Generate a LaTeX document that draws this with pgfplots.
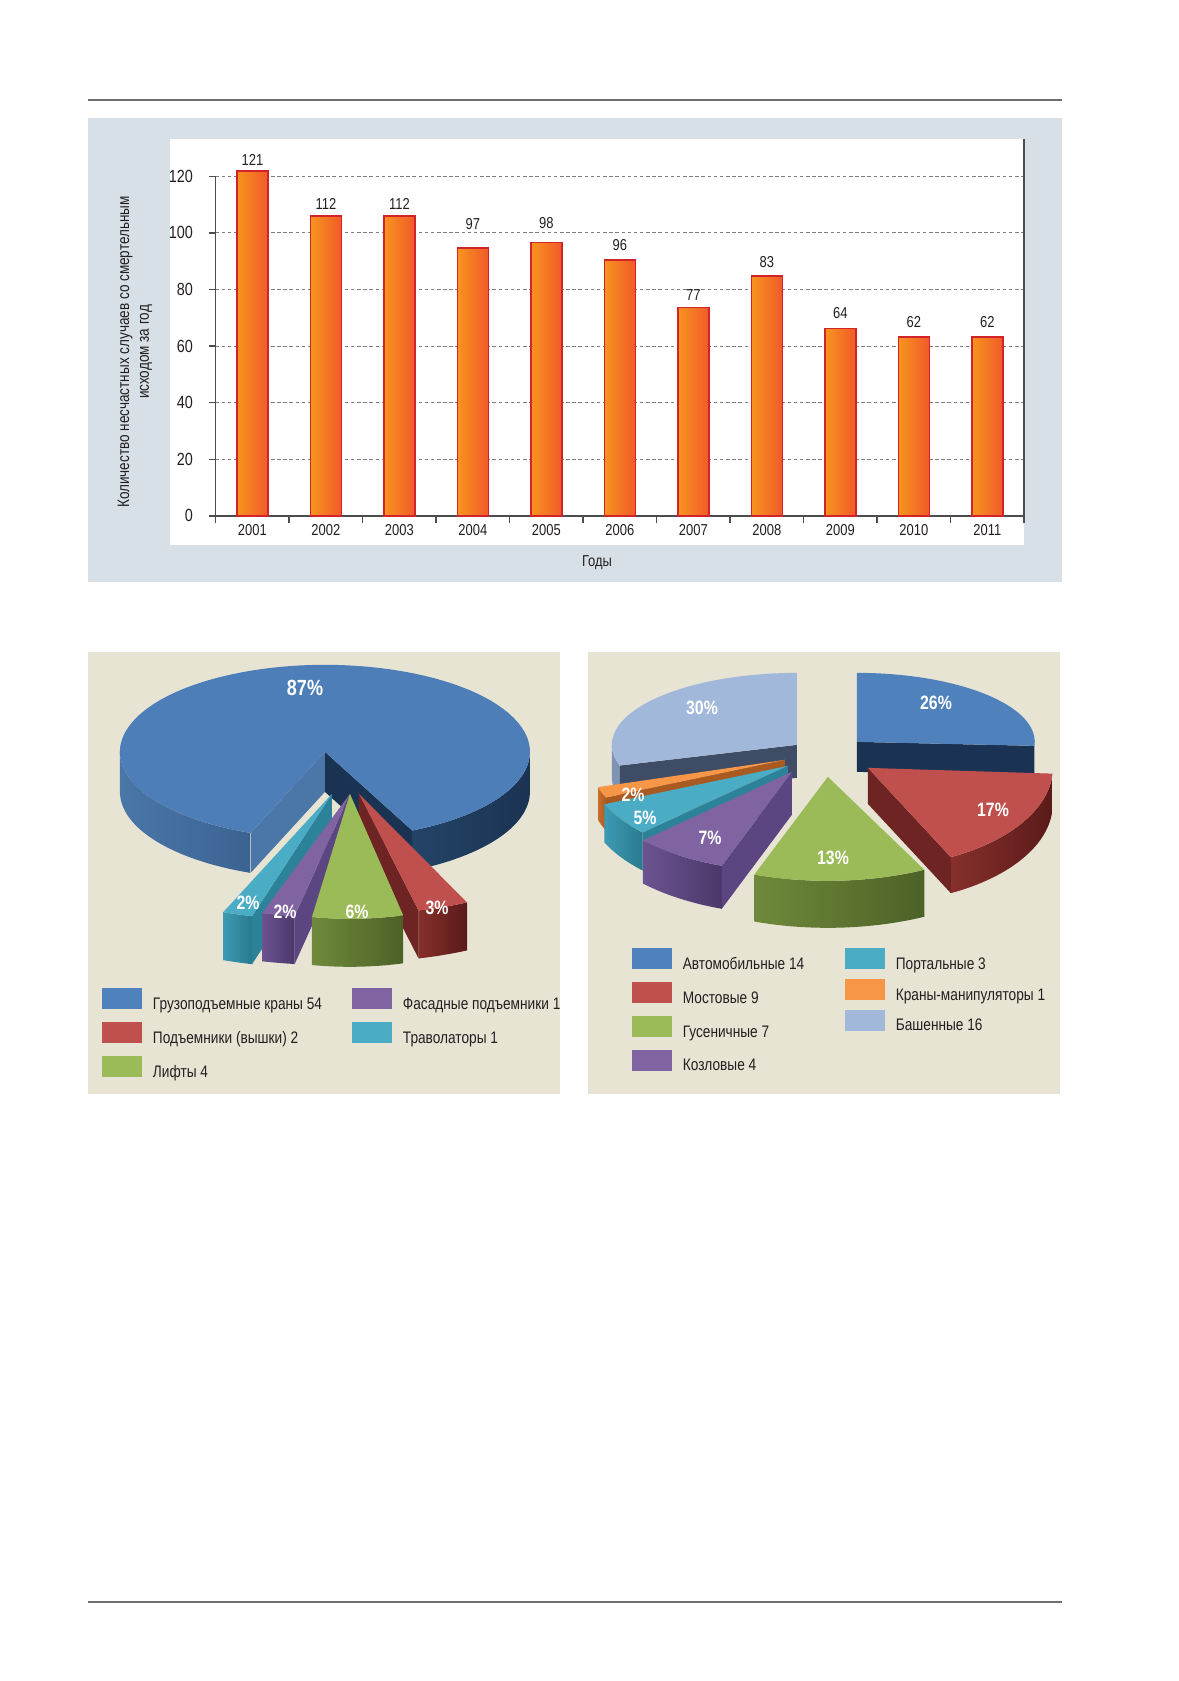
\documentclass[border=0pt]{standalone}
\usepackage{pgfplots}
\pgfplotsset{compat=1.18}
\usepackage{fontspec}
\setmainfont{Liberation Sans}[FakeStretch=0.82]

\definecolor{txt}{HTML}{231F20}
\definecolor{panelblue}{HTML}{D7E0E7}
\definecolor{panelbeige}{HTML}{E8E4D4}
\definecolor{rulegray}{HTML}{6D6E70}
\definecolor{axisgray}{HTML}{4D4D4F}
\definecolor{gridgray}{HTML}{7F7F7F}
\definecolor{barL}{HTML}{F7941E}
\definecolor{barR}{HTML}{F15A29}
\definecolor{barEdge}{HTML}{D2232A}
\definecolor{cBlue}{HTML}{4F81BD}
\definecolor{cBlueTop}{HTML}{4E7EB7}
\definecolor{cBlueWallA}{HTML}{4A76A8}
\definecolor{cBlueWallB}{HTML}{3A6391}
\definecolor{cBlueDarkA}{HTML}{234467}
\definecolor{cBlueDarkB}{HTML}{1B3352}
\definecolor{cRed}{HTML}{C0504D}
\definecolor{cRedWallA}{HTML}{86302C}
\definecolor{cRedWallB}{HTML}{5A1A19}
\definecolor{cRedCut}{HTML}{6E2422}
\definecolor{cGreen}{HTML}{9BBB59}
\definecolor{cGreenWallA}{HTML}{6F8A3B}
\definecolor{cGreenWallB}{HTML}{4C6126}
\definecolor{cPurple}{HTML}{8064A2}
\definecolor{cPurpleWallA}{HTML}{6B5391}
\definecolor{cPurpleWallB}{HTML}{4B386A}
\definecolor{cPurpleCut}{HTML}{5C4682}
\definecolor{cCyan}{HTML}{4BACC6}
\definecolor{cCyanWallA}{HTML}{3C9AB3}
\definecolor{cCyanWallB}{HTML}{2A7A8F}
\definecolor{cCyanCut}{HTML}{2C8399}
\definecolor{cOrange}{HTML}{F79646}
\definecolor{cOrangeWall}{HTML}{C96F2A}
\definecolor{cOrangeCut}{HTML}{A95A20}
\definecolor{cLight}{HTML}{A2B8DA}
\definecolor{cLightWall}{HTML}{7E93B6}
\definecolor{cLightCut}{HTML}{3F4C66}

\newcommand\tickfont{\fontsize{9pt}{10pt}\selectfont}
\newcommand\ytickfont{\fontsize{10pt}{11pt}\selectfont}
\newcommand\legfont{\fontsize{9.5pt}{11pt}\selectfont}

% ---- 3D pie slice helpers (coordinates in page pixels, y downwards) ----
\newcommand\geom[5]{\def\cx{#1}\def\cy{#2}\def\rx{#3}\def\ry{#4}\def\hh{#5}}
\newcommand\tface[3]{%
  \pgfmathsetmacro\xa{\cx+\rx*cos(#1)}%
  \pgfmathsetmacro\ya{-\cy+\ry*sin(#1)}%
  \edef\tmp{\noexpand\fill[#3] (axis cs:\cx,-\cy) -- (axis cs:\xa,\ya)
    arc[start angle=#1, end angle=#2, x radius=\rx*0.02cm, y radius=\ry*0.02cm] -- cycle;}%
  \tmp}
\newcommand\rwall[2]{%
  \pgfmathsetmacro\xa{\cx+\rx*cos(#1)}%
  \pgfmathsetmacro\ya{-\cy+\ry*sin(#1)}%
  \pgfmathsetmacro\yb{\ya-\hh}%
  \pgfmathsetmacro\yc{-\cy-\hh}%
  \edef\tmp{\noexpand\fill[#2] (axis cs:\cx,-\cy) -- (axis cs:\xa,\ya) -- (axis cs:\xa,\yb) -- (axis cs:\cx,\yc) -- cycle;}%
  \tmp}
\newcommand\owall[3]{%
  \pgfmathsetmacro\xa{\cx+\rx*cos(#1)}%
  \pgfmathsetmacro\ya{-\cy+\ry*sin(#1)}%
  \pgfmathsetmacro\xb{\cx+\rx*cos(#2)}%
  \pgfmathsetmacro\yb{-\cy+\ry*sin(#2)-\hh}%
  \edef\tmp{\noexpand\shade[#3] (axis cs:\xa,\ya)
    arc[start angle=#1, end angle=#2, x radius=\rx*0.02cm, y radius=\ry*0.02cm]
    -- (axis cs:\xb,\yb)
    arc[start angle=#2, end angle=#1, x radius=\rx*0.02cm, y radius=\ry*0.02cm] -- cycle;}%
  \tmp}

\pgfplotsset{legax/.style={hide axis, scale only axis, width=1cm, height=1cm,
  xmin=0, xmax=1, ymin=0, ymax=1, anchor=north west,
  legend style={at={(0,1)}, anchor=north west, draw=none, fill=none,
    inner sep=0pt, outer sep=0pt, font=\legfont, column sep=0.22cm,
    nodes={inner sep=0pt, text=txt}},
  legend cell align=left,
  legend image code/.code={\fill[##1, draw=none] (0cm,-0.087cm) rectangle (0.8cm,0.333cm);}},
  onebar/.style={ybar, bar width=0.62cm, draw=barEdge, line width=0.85pt,
    left color=barL, right color=barR,
    nodes near coords, point meta=explicit symbolic,
    every node near coord/.append style={font=\tickfont, text=txt, inner sep=0pt, anchor=south, yshift=#1}}}

\tikzset{pct/.style={text=white, font=\bfseries\fontsize{11pt}{12pt}\selectfont, inner sep=0pt}}

\begin{document}
\begin{tikzpicture}[x=0.02cm,y=0.02cm]
% ---- data for the pies ----
\def\vKrany{54}\def\vPodem{2}\def\vLifty{4}\def\vFasad{1}\def\vTravol{1}
\def\vAvto{14}\def\vMost{9}\def\vGus{7}\def\vKozl{4}\def\vPort{3}\def\vManip{1}\def\vBash{16}
\pgfmathsetmacro\Ltot{\vKrany+\vPodem+\vLifty+\vFasad+\vTravol}
\pgfmathsetmacro\pa{-64.8}
\pgfmathsetmacro\pb{\pa+\vKrany/\Ltot*360}
\pgfmathsetmacro\pc{\pb+\vTravol/\Ltot*360}
\pgfmathsetmacro\pd{\pc+\vFasad/\Ltot*360}
\pgfmathsetmacro\pe{\pd+\vLifty/\Ltot*360}
\pgfmathsetmacro\pf{\pe+\vPodem/\Ltot*360}
\pgfmathsetmacro\Rtot{\vAvto+\vMost+\vGus+\vKozl+\vPort+\vManip+\vBash}
\pgfmathsetmacro\qa{90}
\pgfmathsetmacro\qb{\qa-\vAvto/\Rtot*360}
\pgfmathsetmacro\qc{\qb-\vMost/\Rtot*360}
\pgfmathsetmacro\qd{\qc-\vGus/\Rtot*360}
\pgfmathsetmacro\qe{\qd-\vKozl/\Rtot*360}
\pgfmathsetmacro\qf{\qe-\vPort/\Rtot*360}
\pgfmathsetmacro\qg{\qf-\vManip/\Rtot*360}
\pgfmathsetmacro\qh{\qg-\vBash/\Rtot*360}

% ---- page background and panels ----
\fill[white] (0,0) rectangle (1179,-1681);
\fill[panelblue] (88,-118) rectangle (1062,-582);
\fill[white] (170,-139) rectangle (1024,-545);
\fill[panelbeige] (88,-652) rectangle (560,-1094);
\fill[panelbeige] (588,-652) rectangle (1060,-1094);
\draw[rulegray, line width=0.04cm] (88,-100) -- (1062,-100);
\draw[rulegray, line width=0.04cm] (88,-1602) -- (1062,-1602);

% ---- bar chart ----
\begin{axis}[
  at={(4.314cm,-10.32cm)}, anchor=south west, scale only axis,
  width=16.172cm, height=7.54cm,
  xmin=0.5, xmax=11.5, ymin=0, ymax=133.2,
  axis x line*=bottom, axis y line*=left,
  x axis line style={draw=axisgray, line width=0.85pt, -},
  y axis line style={draw=none, -},
  tick align=outside, major tick length=0.14cm,
  tick style={draw=axisgray, line width=0.85pt},
  ytick={0,20,40,60,80,100,120},
  xtick={0.5,1.5,2.5,3.5,4.5,5.5,6.5,7.5,8.5,9.5,10.5,11.5},
  xticklabels={},
  extra x ticks={1,2,3,4,5,6,7,8,9,10,11},
  extra x tick labels={2001,2002,2003,2004,2005,2006,2007,2008,2009,2010,2011},
  extra x tick style={tick style={draw=none}},
  ymajorgrids, grid style={dash pattern=on 2pt off 1.5pt, draw=gridgray, line width=0.5pt},
  /pgf/number format/assume math mode=true,
  ticklabel style={font=\tickfont, text=txt},
  yticklabel style={font=\ytickfont, inner sep=0pt, xshift=-0.31cm},
  xticklabel style={inner sep=0pt, yshift=-0.02cm},
  clip=false,
]
\addplot[onebar=0.09cm] coordinates {(1,121.8) [121]};
\addplot[onebar=0.11cm] coordinates {(2,105.9) [112]};
\addplot[onebar=0.11cm] coordinates {(3,105.9) [112]};
\addplot[onebar=0.35cm] coordinates {(4,94.6) [97]};
\addplot[onebar=0.27cm] coordinates {(5,96.6) [98]};
\addplot[onebar=0.17cm] coordinates {(6,90.4) [96]};
\addplot[onebar=0.13cm] coordinates {(7,73.7) [77]};
\addplot[onebar=0.15cm] coordinates {(8,84.8) [83]};
\addplot[onebar=0.19cm] coordinates {(9,66.2) [64]};
\addplot[onebar=0.17cm] coordinates {(10,63.3) [62]};
\addplot[onebar=0.17cm] coordinates {(11,63.3) [62]};
\draw[axisgray, line width=0.85pt] (axis cs:0.5,0) -- (axis cs:0.5,120);
\draw[axisgray, line width=0.85pt] (axis cs:11.5,0) -- (axis cs:11.5,133.2);
\end{axis}
\node[rotate=90, align=center, font=\fontsize{9.4pt}{11.3pt}\selectfont, text=txt] at (135,-352)
  {Количество несчастных случаев со смертельным\\исходом за год};
\node[font=\tickfont, text=txt] at (597,-563) {Годы};

% ---- pies ----
\begin{axis}[at={(0cm,-33.62cm)}, anchor=south west, scale only axis, width=23.58cm, height=33.62cm,
  xmin=0, xmax=1179, ymin=-1681, ymax=0, hide axis, clip=false]
% left pie: big slice
\geom{325}{752}{205}{87}{40}
\owall{180}{\pb}{left color=cBlueWallA, right color=cBlueWallB}
\owall{\pa}{0}{left color=cBlueDarkA, right color=cBlueDarkB}
\rwall{\pa}{cBlueDarkB}
\rwall{\pb}{cBlueWallA}
\tface{\pa}{\pb}{cBlueTop}
% left pie: exploded small slices
\geom{359}{794}{254}{120}{48}
\owall{\pe}{\pf}{left color=cRedWallA, right color=cRedWallB}
\rwall{\pe}{cRedCut}
\tface{\pe}{\pf}{cRed}
\geom{332}{794}{300}{127}{48}
\owall{\pb}{\pc}{left color=cCyanWallA, right color=cCyanWallB}
\rwall{\pc}{cCyanCut}
\tface{\pb}{\pc}{cCyan}
\geom{350}{794}{330}{124}{48}
\owall{\pc}{\pd}{left color=cPurpleWallA, right color=cPurpleWallB}
\rwall{\pd}{cPurpleCut}
\tface{\pc}{\pd}{cPurple}
\geom{350}{794}{227}{125}{48}
\owall{\pd}{\pe}{left color=cGreenWallA, right color=cGreenWallB}
\tface{\pd}{\pe}{cGreen}
% right pie
\geom{857}{742}{178}{69}{30}
\owall{\qb}{0}{left color=cBlueDarkA, right color=cBlueDarkB}
\rwall{\qb}{cBlueDarkB}
\tface{\qb}{\qa}{cBlue}
\geom{797}{745}{185}{72}{33}
\owall{-180}{\qg}{left color=cLightWall, right color=cLightWall}
\rwall{\qg}{cLightCut}
\tface{\qh}{\qg}{cLight}
\geom{785}{760}{195}{95}{33}
\owall{\qg}{\qf}{left color=cOrangeWall, right color=cOrangeCut}
\rwall{\qf}{cOrangeCut}
\tface{\qg}{\qf}{cOrange}
\geom{788}{766}{200}{97}{38}
\owall{\qf}{\qe}{left color=cCyanWallA, right color=cCyanWallB}
\rwall{\qe}{cCyanCut}
\tface{\qf}{\qe}{cCyan}
\geom{792}{772}{205}{100}{43}
\owall{\qe}{\qd}{left color=cPurpleWallA, right color=cPurpleWallB}
\rwall{\qd}{cPurpleCut}
\tface{\qe}{\qd}{cPurple}
\geom{868}{768}{185}{100}{36}
\owall{\qc}{\qb}{left color=cRedWallA, right color=cRedWallB}
\rwall{\qc}{cRedCut}
\tface{\qc}{\qb}{cRed}
\geom{828}{777}{215}{104}{47}
\owall{\qd}{\qc}{left color=cGreenWallA, right color=cGreenWallB}
\tface{\qd}{\qc}{cGreen}
\end{axis}

% percentage labels
\node[pct, font=\bfseries\fontsize{12.5pt}{13pt}\selectfont] at (305,-688) {87\%};
\node[pct] at (248,-903) {2\%};
\node[pct] at (285,-912) {2\%};
\node[pct] at (357,-912) {6\%};
\node[pct] at (437,-908) {3\%};
\node[pct] at (702,-708) {30\%};
\node[pct] at (936,-703) {26\%};
\node[pct] at (993,-810) {17\%};
\node[pct] at (833,-858) {13\%};
\node[pct] at (710,-838) {7\%};
\node[pct] at (645,-818) {5\%};
\node[pct] at (633,-795) {2\%};

% ---- legends ----
\begin{axis}[legax, at={(2.04cm,-19.77cm)}, legend style={row sep=0.20cm}]
\addlegendimage{fill=cBlue}\addlegendentry{Грузоподъемные краны 54}
\addlegendimage{fill=cRed}\addlegendentry{Подъемники (вышки) 2}
\addlegendimage{fill=cGreen}\addlegendentry{Лифты 4}
\end{axis}
\begin{axis}[legax, at={(7.04cm,-19.77cm)}, legend style={row sep=0.20cm}]
\addlegendimage{fill=cPurple}\addlegendentry{Фасадные подъемники 1}
\addlegendimage{fill=cCyan}\addlegendentry{Траволаторы 1}
\end{axis}
\begin{axis}[legax, at={(12.64cm,-18.97cm)}, legend style={row sep=0.198cm}]
\addlegendimage{fill=cBlue}\addlegendentry{Автомобильные 14}
\addlegendimage{fill=cRed}\addlegendentry{Мостовые 9}
\addlegendimage{fill=cGreen}\addlegendentry{Гусеничные 7}
\addlegendimage{fill=cPurple}\addlegendentry{Козловые 4}
\end{axis}
\begin{axis}[legax, at={(16.9cm,-18.97cm)}, legend style={row sep=0.14cm}]
\addlegendimage{fill=cCyan}\addlegendentry{Портальные 3}
\addlegendimage{fill=cOrange}\addlegendentry{Краны-манипуляторы 1}
\addlegendimage{fill=cLight}\addlegendentry{Башенные 16}
\end{axis}

\pgfresetboundingbox
\useasboundingbox (0,0) rectangle (1179,-1681);
\end{tikzpicture}
\end{document}
